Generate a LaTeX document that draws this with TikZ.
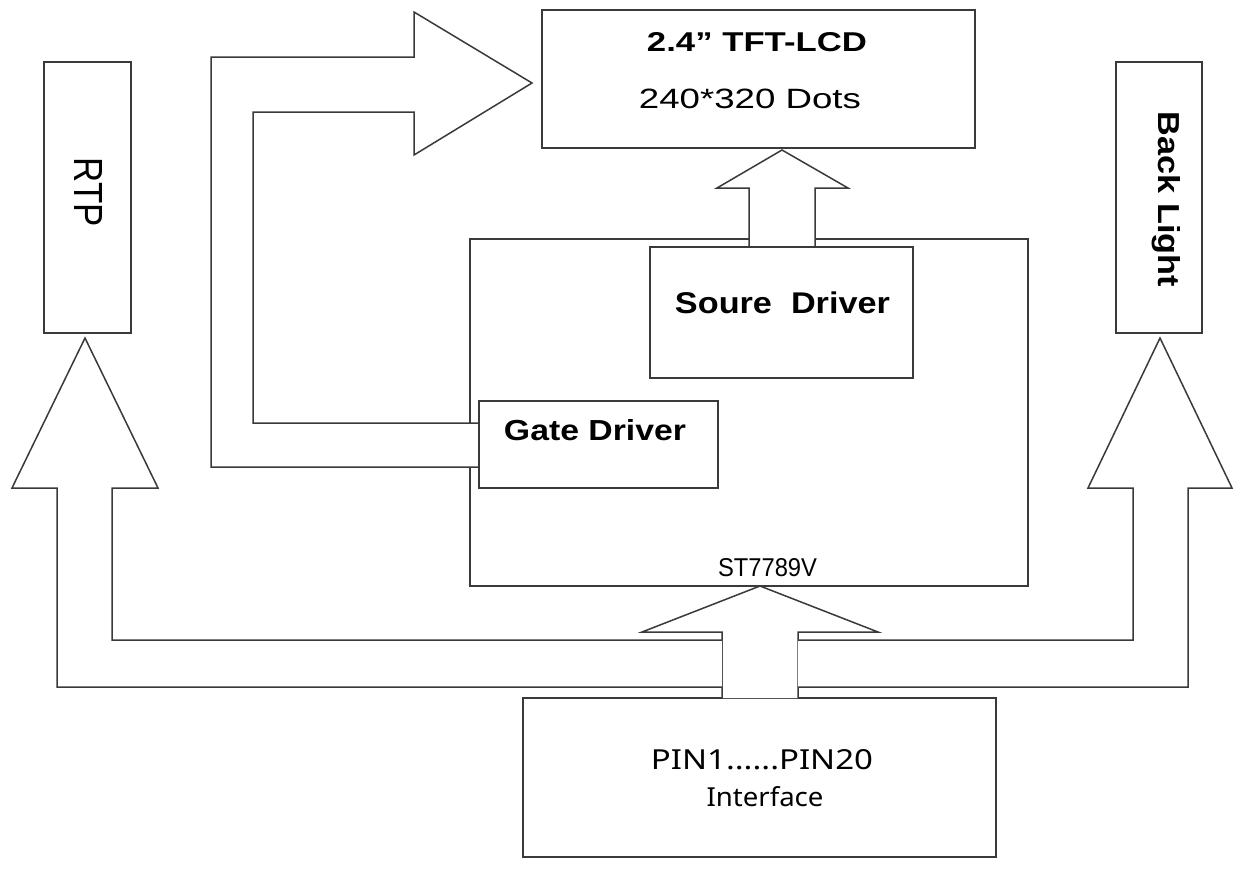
\documentclass[tikz,border=0pt]{standalone}
\usepackage{fontspec}
\setmainfont{Liberation Sans}
\newfontfamily\pinfont{Noto Sans}
\usepackage{graphicx}
\definecolor{lc}{HTML}{3A3A3A}
\begin{document}
\begin{tikzpicture}[x=1pt,y=-1pt,
  box/.style={draw=lc, line width=1.5pt, fill=white, inner sep=0pt, outer sep=0pt},
  blockarrow/.style={draw=lc, line width=1.5pt, fill=white, line join=miter},
  lbl/.style={inner sep=0pt, outer sep=0pt, anchor=base, text=black},
  vlbl/.style={inner sep=0pt, outer sep=0pt, rotate=-90, text=black}]
\useasboundingbox (0,0) rectangle (1236,873);
\fill[white] (0,0) rectangle (1236,873);

% boxes
\node[box, minimum width=433, minimum height=138] (lcd) at (758.5,79) {};
\node[box, minimum width=87, minimum height=271] (rtp) at (87.5,197.5) {};
\node[box, minimum width=86, minimum height=271] (bl) at (1159,197.5) {};
\node[box, minimum width=558, minimum height=347] (st) at (749,412.5) {};
\node[box, minimum width=473, minimum height=159] (pin) at (759.5,777.5) {};

% source driver arrow (source driver -> LCD)
\draw[blockarrow] (749,247) -- (749,188) -- (717,188) -- (782,150) -- (848,188) -- (815,188) -- (815,247);
\node[box, minimum width=263, minimum height=131] (src) at (781.5,312.5) {};

% gate driver arrow (gate driver -> LCD)
\draw[blockarrow] (479,423) -- (253,423) -- (253,112) -- (414,112) -- (414,155) -- (532,83) -- (414,12) -- (414,57) -- (211,57) -- (211,467) -- (479,467);
\node[box, minimum width=239, minimum height=87] (gate) at (598.5,444.5) {};

% interface arrow up to ST7789V
\draw[blockarrow] (722,698) -- (722,632) -- (642,632) -- (760,586) -- (878,632) -- (798,632) -- (798,698);

% RTP arrow
\draw[blockarrow] (722,640) -- (112,640) -- (112,488) -- (158,488) -- (85,338) -- (12,488) -- (57,488) -- (57,687) -- (722,687);
% Back light arrow
\draw[blockarrow] (798,640) -- (1133,640) -- (1133,488) -- (1088,488) -- (1160,338) -- (1232,488) -- (1188,488) -- (1188,687) -- (798,687);

% labels
\node[lbl] (t1) at (757,51) {\resizebox{220pt}{19pt}{\bfseries 2.4” TFT-LCD}};
\node[lbl] (t2) at (750,108) {\resizebox{222pt}{19.5pt}{240*320 Dots}};
\node[lbl] (t3) at (782.5,313) {\resizebox{215pt}{21.7pt}{\bfseries Soure~~Driver}};
\node[lbl] (t4) at (595,440) {\resizebox{182pt}{21pt}{\bfseries Gate Driver}};
\node[lbl] (t5) at (767.5,576) {\resizebox{99pt}{18pt}{ST7789V}};
\node[lbl] (t6) at (762,769) {\resizebox{222pt}{20pt}{\pinfont PIN1......PIN20}};
\node[lbl] (t7) at (765,806) {\resizebox{117pt}{20pt}{\pinfont Interface}};
\node[vlbl] (t8) at (89,192) {\resizebox{69pt}{28pt}{RTP}};
\node[vlbl, anchor=base] (t9) at (1158,199.5) {\resizebox{175pt}{22pt}{\bfseries Back Light}};
\end{tikzpicture}
\end{document}
